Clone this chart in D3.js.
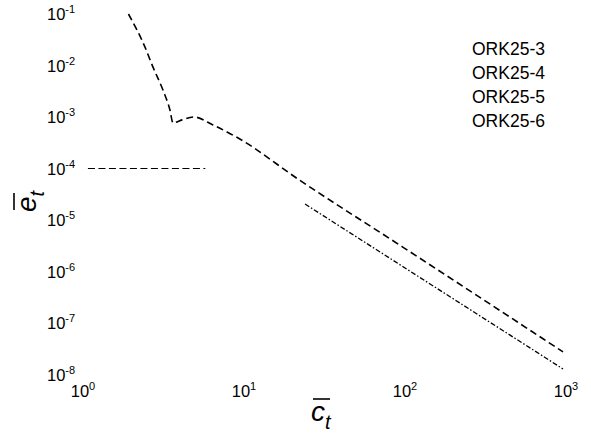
<!DOCTYPE html>
<html>
<head>
<meta charset="utf-8">
<script src="https://cdn.jsdelivr.net/npm/d3@7"></script>
<style>
  body { margin: 0; background: #fff; }
  text { font-family: "Liberation Sans", Arial, sans-serif; fill: #000; }
</style>
</head>
<body>
<script>
// series (x = c_t, y = e_t)
var ork3X = [2, 2.53, 2.84, 3.28, 3.62, 3.78, 4.3, 5.1, 6.7, 9.6, 23, 100, 1000];
var ork3Y = [0.1, 0.023, 0.0093, 0.0033, 0.00137, 0.00077, 0.00088, 0.001, 0.0007, 0.00039, 6e-5, 3.05e-6, 2.75e-8];
var ork4X = [1.12, 6];
var ork4Y = [1e-4, 1e-4];
var ork5X = [25, 1000];
var ork5Y = [2.04e-5, 1.28e-8];
var legendLabels = ["ORK25-3", "ORK25-4", "ORK25-5", "ORK25-6"];
var xTicks = [1, 10, 100, 1000];
var yTicks = [1e-1, 1e-2, 1e-3, 1e-4, 1e-5, 1e-6, 1e-7, 1e-8];

var width = 591, height = 436;

var svg = d3.select("body").append("svg").attr("width", width).attr("height", height);

var x = d3.scaleLog().domain([1, 1000]).range([80, 563]);
var y = d3.scaleLog().domain([1e-1, 1e-8]).range([14, 374.5]);

function pow10(g, v) {
  var e = Math.round(Math.log10(v));
  g.append("tspan").text("10");
  g.append("tspan").attr("dy", -7).attr("font-size", 11).text(e);
}

// y tick labels
yTicks.forEach(function(v) {
  var t = svg.append("text").attr("x", 47).attr("y", y(v) + 6).attr("font-size", 16.5);
  pow10(t, v);
});

// x tick labels
xTicks.forEach(function(v) {
  var t = svg.append("text").attr("x", x(v) + 3).attr("y", 397)
    .attr("font-size", 16.5).attr("text-anchor", "middle");
  pow10(t, v);
});

function pts(xs, ys) { return xs.map(function(d, i) { return [d, ys[i]]; }); }

var line = d3.line().x(function(d) { return x(d[0]); }).y(function(d) { return y(d[1]); });

svg.append("path")
  .attr("d", line.curve(d3.curveMonotoneX)(pts(ork3X, ork3Y)))
  .attr("fill", "none").attr("stroke", "#000").attr("stroke-width", 1.6)
  .attr("stroke-dasharray", "7,4");

svg.append("path")
  .attr("d", line.curve(d3.curveLinear)(pts(ork4X, ork4Y)))
  .attr("fill", "none").attr("stroke", "#000").attr("stroke-width", 1.1)
  .attr("stroke-dasharray", "7,3.5");

svg.append("path")
  .attr("d", line.curve(d3.curveLinear)(pts(ork5X, ork5Y)))
  .attr("fill", "none").attr("stroke", "#000").attr("stroke-width", 1.3)
  .attr("stroke-dasharray", "5,2,1.5,2");

// legend (text only)
svg.selectAll(".leg").data(legendLabels).enter().append("text")
  .attr("class", "leg")
  .attr("x", 472).attr("y", function(d, i) { return 55 + i * 24; })
  .attr("font-size", 17.5).text(function(d) { return d; });

// axis labels: italic letter with a bar over it and subscript t
function barLabel(g, letter) {
  var t = g.append("text").attr("font-size", 28).attr("font-style", "italic");
  t.append("tspan").text(letter);
  t.append("tspan").attr("dy", 8).attr("font-size", 20).text("t");
  g.append("line").attr("x1", 2).attr("x2", 19).attr("y1", -22).attr("y2", -22)
    .attr("stroke", "#000").attr("stroke-width", 1.6);
}
barLabel(svg.append("g").attr("transform", "translate(311,421)"), "c");
barLabel(svg.append("g").attr("transform", "translate(36,212) rotate(-90)"), "e");
</script>
</body>
</html>
